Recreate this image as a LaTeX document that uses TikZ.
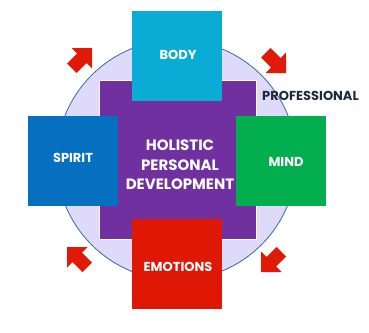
\documentclass[tikz,border=0pt]{standalone}
\usepackage{fontspec}
\setmainfont{Poppins}
\definecolor{bodycyan}{HTML}{0AACD6}
\definecolor{spiritblue}{HTML}{0570C0}
\definecolor{mindgreen}{HTML}{03AE4E}
\definecolor{emored}{HTML}{DE1804}
\definecolor{holpurple}{HTML}{7030A0}
\definecolor{lavender}{HTML}{E0DAFA}
\definecolor{ringblue}{HTML}{2F6E9A}
\definecolor{arrowred}{HTML}{E01A06}
\definecolor{navytext}{HTML}{1F2A40}
\tikzset{
  sqbox/.style={rectangle, minimum width=90pt, minimum height=90pt, inner sep=0pt, draw=none},
  boxlabel/.style={text=white, font=\bfseries\fontsize{13}{15}\selectfont, inner sep=0pt},
  cyclearrow/.pic={\fill[arrowred] (0,0)--(0,20.5)--(-5.5,15)--(-15.5,25)--(-25,15.5)--(-15,5.5)--(-20.5,0)--cycle;}
}
\begin{document}
\begin{tikzpicture}[x=1pt,y=-1pt]
\useasboundingbox (0,0) rectangle (369,332);
\node[circle, minimum size=240pt, inner sep=0pt, fill=lavender, draw=ringblue, line width=0.8pt] (ring) at (176.5,160) {};
\node[rectangle, minimum width=157pt, minimum height=159pt, inner sep=0pt, fill=holpurple, draw=white, line width=1pt] (core) at (177.5,159.5) {};
\node[sqbox, fill=bodycyan] (body) at (177,56) {};
\node[sqbox, fill=spiritblue] (spirit) at (73,161) {};
\node[sqbox, fill=mindgreen] (mind) at (281,161) {};
\node[sqbox, fill=emored] (emo) at (177,263.5) {};
\node[boxlabel] (bodyt) at (178,54.5) {BODY};
\node[boxlabel] (spiritt) at (73,158) {SPIRIT};
\node[boxlabel] (mindt) at (286,161.7) {MIND};
\node[boxlabel] (emot) at (178,266.5) {EMOTIONS};
\node[text=white, font=\bfseries\fontsize{15}{19.7}\selectfont, align=center, inner sep=0pt] (coret) at (180,165) {HOLISTIC\\PERSONAL\\DEVELOPMENT};
\node[text=navytext, font=\bfseries\fontsize{13}{15}\selectfont, inner sep=0pt] (prof) at (310.5,96) {PROFESSIONAL};
\path (92,48) pic {cyclearrow};
\path (286,73) pic[yscale=-1] {cyclearrow};
\path (261,272) pic[xscale=-1,yscale=-1] {cyclearrow};
\path (67,247) pic[xscale=-1] {cyclearrow};
\end{tikzpicture}
\end{document}
